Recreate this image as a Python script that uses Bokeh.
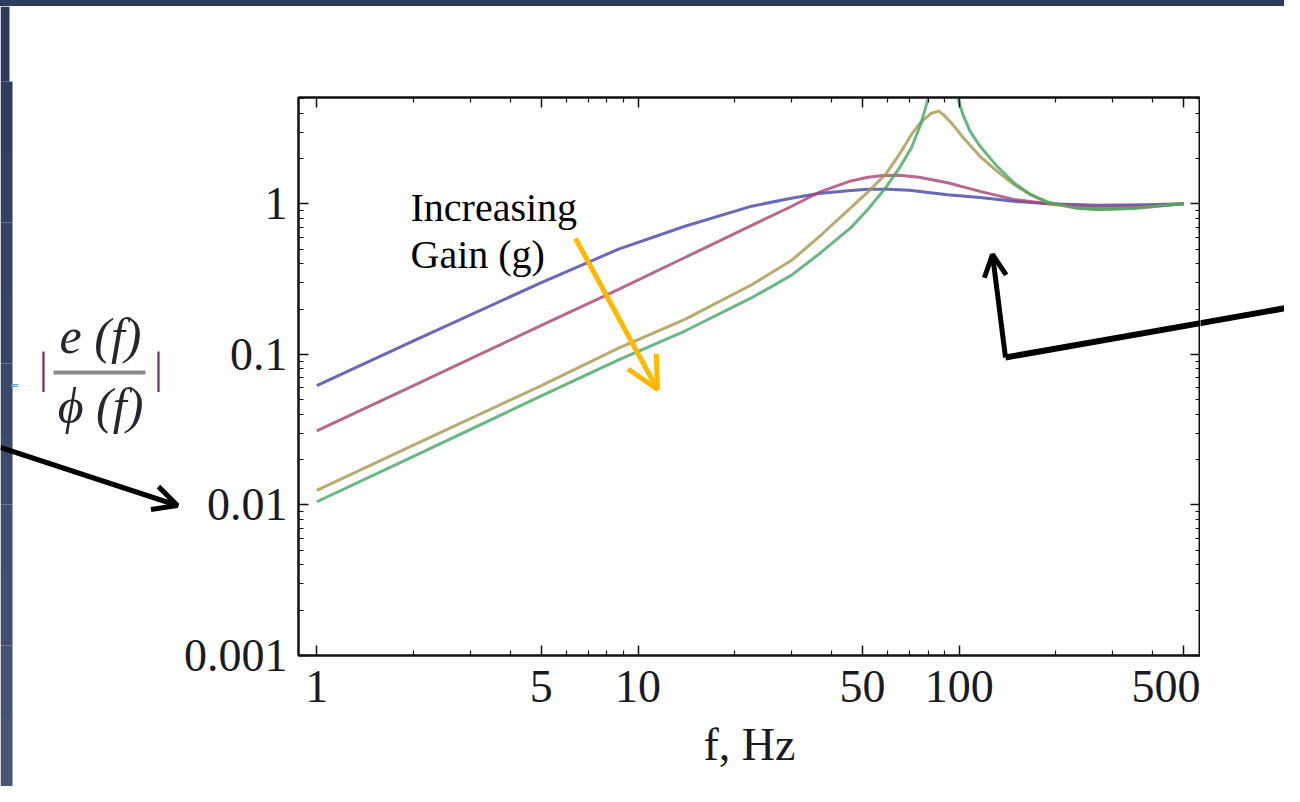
import numpy as np
from bokeh.plotting import figure
from bokeh.layouts import row, column
from bokeh.models import (FixedTicker, LogAxis, Label, Arrow, OpenHead, Div,
                          CustomJSTickFormatter, Range1d)
from bokeh.core.properties import value
from bokeh.embed import file_html
from bokeh.resources import INLINE

# ---------------- data ----------------
f_blue = [1, 2, 5, 8.7, 14, 22.6, 30, 36.5, 45, 52, 60, 70, 80, 92, 116, 148, 190, 270, 380, 500]
m_blue = [0.062, 0.123, 0.30, 0.50, 0.71, 0.965, 1.09, 1.17, 1.22, 1.25, 1.25, 1.23, 1.19, 1.15,
          1.10, 1.04, 1.0, 0.98, 0.985, 1.0]

f_red = [1, 2, 5, 8.7, 14, 22.6, 30, 36.5, 46, 52, 58, 65, 75, 92, 116, 148, 190, 270, 380, 500]
m_red = [0.031, 0.062, 0.156, 0.27, 0.44, 0.72, 0.96, 1.19, 1.42, 1.50, 1.54, 1.55, 1.50, 1.38,
         1.21, 1.07, 1.0, 0.95, 0.965, 1.0]

f_olive = [1, 2, 5, 8.7, 14, 22.6, 30, 36.5, 46, 52, 59, 65, 71, 76, 82, 86.4, 90, 95, 103, 116,
           131, 148, 167, 192, 230, 270, 350, 500]
m_olive = [0.0125, 0.025, 0.062, 0.11, 0.171, 0.29, 0.42, 0.60, 0.945, 1.2, 1.57, 2.12, 2.89, 3.5,
           4.0, 4.13, 3.85, 3.4, 2.75, 2.07, 1.65, 1.34, 1.15, 1.0, 0.94, 0.92, 0.94, 1.0]

f_green = [1, 2, 5, 8.7, 14, 22.6, 30, 36.5, 46, 52, 59, 65, 71, 76, 80, 84, 87, 89, 92, 96, 99.6,
           103, 108, 116, 131, 148, 167, 188, 230, 270, 350, 500]
m_green = [0.0105, 0.021, 0.053, 0.092, 0.143, 0.238, 0.335, 0.462, 0.695, 0.92, 1.28, 1.72, 2.36,
           3.4, 5.0, 8.0, 13.0, 15.0, 11.0, 6.5, 4.8, 3.85, 3.04, 2.42, 1.78, 1.38, 1.15, 1.03,
           0.94, 0.915, 0.93, 1.0]

x_ticks = [1, 5, 10, 50, 100, 500]
x_minor = [2, 3, 4, 6, 7, 8, 9, 20, 30, 40, 60, 70, 80, 90, 200, 300, 400]
y_ticks = [0.001, 0.01, 0.1, 1]
y_minor = [0.002, 0.003, 0.004, 0.005, 0.006, 0.007, 0.008, 0.009,
           0.02, 0.03, 0.04, 0.05, 0.06, 0.07, 0.08, 0.09,
           0.2, 0.3, 0.4, 0.5, 0.6, 0.7, 0.8, 0.9, 2, 3, 4, 5]

x_label = "f, Hz"
note_lines = ["Increasing", "Gain (g)"]
y_label_top = "e (f)"
y_label_bottom = "\u03d5 (f)"

# ---------------- layout constants (picture pixels) ----------------
TOTAL_W, TOTAL_H = 1284, 786
TOP_H = 6                    # dark slide strip at the top
LEFT_W = 180                 # strip that holds the formula label and left arrow
L, R, T, B = 298, 1200, 97, 655   # plot frame
XMIN, XMAX = 0.877, 563.8
YMIN, YMAX = 0.001, 5.085
NAVY = "#2e3b5e"
SERIF = "Liberation Serif"
INK = "#1a1a22"


def dx(px):
    return 10 ** (np.log10(XMIN) + (px - L) / (R - L) * (np.log10(XMAX) - np.log10(XMIN)))


def dy(py):
    return 10 ** (np.log10(YMIN) + (B - py) / (B - T) * (np.log10(YMAX) - np.log10(YMIN)))


def plain(width, height, x0, x1, y0, y1, bg="white"):
    f = figure(width=width, height=height, x_range=Range1d(x0, x1), y_range=Range1d(y1, y0),
               output_backend="svg", toolbar_location=None, title=None,
               x_axis_location=None, y_axis_location=None,
               min_border_left=0, min_border_right=0, min_border_top=0, min_border_bottom=0)
    f.frame_align = False
    f.outline_line_color = None
    f.background_fill_color = bg
    f.border_fill_color = bg
    f.grid.visible = False
    return f


# ---------------- top strip ----------------
top = Div(text="", width=TOTAL_W, height=TOP_H, margin=(0, 0, 0, 0),
          styles={"background-color": NAVY})

# ---------------- main plot ----------------
MAIN_W = R - LEFT_W
MAIN_H = TOTAL_H - TOP_H
p = figure(width=MAIN_W, height=MAIN_H, x_axis_type="log", y_axis_type="log",
           x_range=Range1d(XMIN, XMAX), y_range=Range1d(YMIN, YMAX),
           output_backend="svg", toolbar_location=None,
           min_border_left=L - LEFT_W, min_border_right=0,
           min_border_top=T - TOP_H, min_border_bottom=MAIN_H - (B - TOP_H))
p.frame_align = False
p.xgrid.visible = False
p.ygrid.visible = False
p.outline_line_color = "#111111"
p.outline_line_width = 2
p.background_fill_color = "white"
p.border_fill_color = "white"

fmt = CustomJSTickFormatter(code="return tick.toString();")
blank = CustomJSTickFormatter(code="return '';")


def style(ax, ticks, minor, show):
    ax.ticker = FixedTicker(ticks=ticks, minor_ticks=minor)
    ax.formatter = fmt if show else blank
    ax.major_tick_in = 10
    ax.major_tick_out = 0
    ax.minor_tick_in = 5
    ax.minor_tick_out = 0
    ax.axis_line_color = "#111111"
    ax.axis_line_width = 2
    ax.major_tick_line_color = "#111111"
    ax.major_tick_line_width = 1.5
    ax.minor_tick_line_color = "#111111"
    ax.minor_tick_line_width = 1.2
    ax.major_label_text_font = SERIF
    ax.major_label_text_font_size = "46px"
    ax.major_label_text_color = INK
    if not show:
        ax.major_label_standoff = 0


style(p.xaxis[0], x_ticks, x_minor, True)
style(p.yaxis[0], y_ticks, y_minor, True)
p.xaxis[0].major_label_standoff = 15
p.yaxis[0].major_label_standoff = 11
p.xaxis[0].axis_label = x_label
p.xaxis[0].axis_label_text_font = SERIF
p.xaxis[0].axis_label_text_font_style = "normal"
p.xaxis[0].axis_label_text_font_size = "46px"
p.xaxis[0].axis_label_text_color = INK
p.xaxis[0].axis_label_standoff = 14

top_ax = LogAxis()
style(top_ax, x_ticks, x_minor, False)
p.add_layout(top_ax, "above")
right_ax = LogAxis()
style(right_ax, y_ticks, y_minor, False)
p.add_layout(right_ax, "right")

colors = ["#4444a6", "#a44474", "#a6964c", "#44a664"]
for fs, ms, c in [(f_blue, m_blue, colors[0]), (f_red, m_red, colors[1]),
                  (f_olive, m_olive, colors[2]), (f_green, m_green, colors[3])]:
    p.line(fs, ms, line_color=c, line_width=3, line_alpha=0.8, line_join="round")

p.add_layout(Label(x=dx(410), y=dy(207), text=note_lines[0], text_font=SERIF,
                   text_font_size="40px", text_color="#000000", text_baseline="alphabetic"))
p.add_layout(Label(x=dx(410), y=dy(254), text=note_lines[1], text_font=SERIF,
                   text_font_size="40px", text_color="#000000", text_baseline="alphabetic"))

p.add_layout(Arrow(x_start=dx(575), y_start=dy(238), x_end=dx(657), y_end=dy(389),
                   line_color="#FFB800", line_width=5,
                   end=OpenHead(size=32, line_color="#FFB800", line_width=5)))

# bent arrow (part inside the frame)
p.add_layout(Arrow(x_start=dx(1300), y_start=dy(305), x_end=dx(1005), y_end=dy(357),
                   line_color="black", line_width=6, end=None))
p.add_layout(Arrow(x_start=dx(1005), y_start=dy(357), x_end=dx(992), y_end=dy(254),
                   line_color="black", line_width=5,
                   end=OpenHead(size=22, line_color="black", line_width=5)))

# ---------------- left strip: slide edge, formula label, arrow ----------------
left = plain(LEFT_W, MAIN_H, 0, LEFT_W, TOP_H, TOTAL_H)
band_cols = ["#2f3c60", "#323f62", "#354265", "#384467", "#3b4769", "#3e4a6c", "#414d6e",
             "#444f70", "#475272", "#4a5574"]
edges = np.linspace(81, TOTAL_H, len(band_cols) + 1)
left.quad(left=[0] * len(band_cols), right=[12] * len(band_cols), top=list(edges[:-1]),
          bottom=list(edges[1:]), fill_color=band_cols, line_color=None)
left.quad(left=[0], right=[9], top=[TOP_H], bottom=[81], fill_color=NAVY, line_color=None)

left.text(x=[100], y=[335], text=[y_label_top], text_font=value(SERIF), text_font_style="italic",
          text_font_size="50px", text_color="#2a2430", text_align="center",
          text_baseline="middle")
left.text(x=[100], y=[405], text=[y_label_bottom], text_font=value(SERIF),
          text_font_style="italic", text_font_size="50px", text_color="#2a2430",
          text_align="center", text_baseline="middle")
left.segment(x0=[53], y0=[372], x1=[145], y1=[372], line_color="#8a8a8a", line_width=4)
left.text(x=[43, 158], y=[368, 368], text=["|", "|"], text_font=value(SERIF),
          text_font_size="44px", text_color="#6a3478", text_align="center",
          text_baseline="middle")
left.text(x=[14], y=[385], text=["="], text_font=value("DejaVu Sans"), text_font_size="11px",
          text_color="#4a9de0", text_align="center", text_baseline="middle")
left.add_layout(Arrow(x_start=0, y_start=447, x_end=177, y_end=505, line_color="black",
                      line_width=5, end=OpenHead(size=24, line_color="black", line_width=5)))

# ---------------- right strip: continuation of the bent arrow ----------------
right = plain(TOTAL_W - LEFT_W - MAIN_W, MAIN_H, R, TOTAL_W, TOP_H, TOTAL_H)
right.segment(x0=[1005], y0=[357], x1=[1300], y1=[305], line_color="black", line_width=6)

layout = column(top, row(left, p, right, spacing=0), spacing=0)
open("out.html", "w").write(file_html(layout, INLINE))
